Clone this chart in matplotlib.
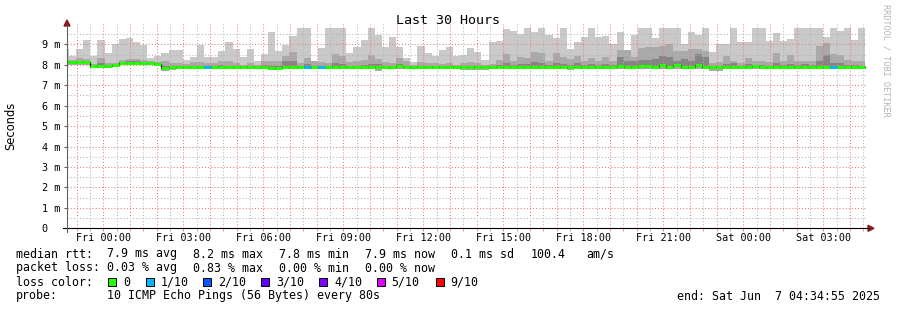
import numpy as np
import matplotlib
matplotlib.use('Agg')
import matplotlib.pyplot as plt
from matplotlib.lines import Line2D
from matplotlib.patches import Polygon, Rectangle

plt.rcParams['font.family'] = ['DejaVu Sans Mono']

W, H = 897, 310

# smokeping bins, 16 min each, bin -1 .. 111 (values in ms)
med = ([8.12] * 4 + [7.95] * 3 + [8.00] + [8.10] * 5 + [8.03, 7.84] + [7.90] * 6 + [7.89] * 3 + [7.88] * 5
       + [7.86, 7.86] + [7.90] * 9 + [7.89] * 5 + [7.87, 7.89, 7.92] + [7.89] * 9
       + [7.90] * 21 + [7.96, 7.90, 7.90, 7.95, 7.95, 7.90, 8.00]
       + [7.90, 8.00, 7.90, 7.90, 8.00] + [7.90] * 7 + [7.93] + [7.90] * 15)
hi = [8.77, 8.45, 8.77, 9.21, 8.45, 9.21, 8.56, 9.02, 9.26, 9.31, 9.10, 8.97, 8.33, 8.45, 8.56,
      8.72, 8.72, 8.23, 8.40, 8.97, 8.40, 8.40, 8.69, 9.10, 8.77, 8.40, 8.77, 8.17, 8.53,
      9.60, 8.69, 8.99, 9.42, 9.80, 9.80, 8.20, 8.82, 9.80, 9.80, 9.80, 8.56, 8.88, 9.21,
      9.80, 9.47, 8.88, 9.37, 8.88, 8.33, 8.12, 8.93, 8.56, 8.45, 8.72, 8.88, 8.45, 8.50,
      8.82, 8.61, 8.23, 9.10, 9.18, 9.75, 9.67, 9.51, 9.80, 9.59, 9.80, 9.46, 9.31, 9.80,
      8.75, 9.10, 9.35, 9.80, 9.37, 9.39, 9.02, 9.61, 8.45, 9.46, 9.80, 9.80, 9.31, 9.80,
      9.78, 9.80, 9.02, 9.59, 9.46, 9.80, 8.61, 9.02, 9.02, 9.80, 9.10, 9.10, 9.80, 9.80,
      9.15, 9.54, 9.15, 9.26, 9.80, 9.80, 9.80, 9.80, 9.34, 9.80, 9.64, 9.80, 9.21, 9.80]
hi2 = [8.23, 8.23, 8.31, 8.28, 8.04, 8.33, 8.07, 8.07, 8.23, 8.28, 8.28, 8.23, 8.17, 8.12, 8.17,
       8.07, 8.07, 8.04, 8.12, 8.12, 8.07, 8.07, 8.17, 8.20, 8.07, 8.00, 8.07, 8.00, 8.17,
       8.17, 8.17, 8.41, 8.61, 8.07, 8.33, 8.17, 8.12, 8.07, 8.53, 8.45, 8.12, 8.17, 8.23,
       8.49, 8.28, 8.12, 8.07, 8.33, 8.17, 8.00, 8.12, 8.07, 8.07, 8.04, 8.07, 8.00, 8.07,
       8.12, 8.07, 8.00, 8.04, 8.23, 8.53, 8.20, 8.36, 8.33, 8.61, 8.56, 8.20, 8.56, 8.36,
       8.28, 8.45, 8.20, 8.33, 8.17, 8.36, 8.17, 8.72, 8.72, 8.36, 8.82, 8.85, 8.88, 8.93,
       9.02, 8.69, 8.69, 8.77, 8.77, 8.69, 8.07, 8.12, 8.45, 8.20, 8.07, 8.33, 8.17, 8.17,
       8.12, 8.56, 8.17, 8.49, 8.17, 8.17, 8.17, 8.93, 9.07, 8.53, 8.49, 8.23, 8.20, 8.17]
hi3 = [8.18, 8.18, 8.20, 8.20, 8.00, 8.10, 8.00, 8.04, 8.16, 8.18, 8.18, 8.16, 8.14, 8.08, 7.92,
       7.96, 7.96, 7.96, 7.96, 7.96, 7.96, 7.95, 7.98, 7.95, 7.94, 7.94, 7.94, 7.94, 7.98,
       7.92, 7.95, 8.20, 8.20, 7.96, 8.05, 7.96, 7.96, 7.96, 8.10, 8.05, 7.95, 7.95, 8.00,
       8.04, 8.05, 7.93, 7.95, 8.05, 7.95, 7.94, 7.95, 7.94, 7.94, 7.94, 7.95, 7.94, 7.95,
       7.96, 7.96, 7.95, 7.96, 8.00, 8.10, 8.00, 8.05, 8.05, 8.15, 8.10, 7.98, 8.10, 8.05,
       8.00, 8.08, 7.98, 8.05, 7.98, 8.05, 7.98, 8.36, 8.20, 8.20, 8.23, 8.23, 8.28, 8.45,
       8.40, 8.17, 8.28, 8.17, 8.53, 8.36, 7.96, 7.96, 8.05, 8.07, 7.96, 8.05, 8.00, 8.00,
       7.96, 8.10, 7.98, 8.05, 7.98, 8.02, 7.98, 8.20, 8.49, 8.07, 8.07, 8.00, 7.98, 7.96]
lo = ([8.00] * 4 + [7.85] * 3 + [7.90] + [8.00] * 5 + [7.93, 7.72, 7.74] + [7.78] * 13
      + [7.76, 7.76] + [7.80] * 9 + [7.78] * 4 + [7.70] + [7.78] * 11 + [7.74]
      + [7.74] * 3 + [7.78] * 11 + [7.75] + [7.78] * 13
      + [7.78] * 6 + [7.72] * 2 + [7.78] * 20)
loss_bins = [19, 33, 35, 107]  # bins with 1/10 loss

xlabels = ['Fri 00:00', 'Fri 03:00', 'Fri 06:00', 'Fri 09:00', 'Fri 12:00',
           'Fri 15:00', 'Fri 18:00', 'Fri 21:00', 'Sat 00:00', 'Sat 03:00']
ylabels = ['0  ', '1 m', '2 m', '3 m', '4 m', '5 m', '6 m', '7 m', '8 m', '9 m']

loss_names = ['0', '1/10', '2/10', '3/10', '4/10', '5/10', '9/10']
loss_colors = ['#26ff00', '#00b8ff', '#0059ff', '#5e00ff', '#7e00ff', '#dd00ff', '#ff0000']


def fx(px):
    return px / W


def fy(py):
    return 1 - py / H


fig = plt.figure(figsize=(W / 100, H / 100), dpi=100)
ax = fig.add_axes([fx(67), fy(228.3), 800 / W, 204.4 / H])
ax.set_xlim(0, 30)
ax.set_ylim(0, 10)
for s in ax.spines.values():
    s.set_visible(False)

edges = (np.arange(-1, 113) * 16 + 4.5) / 60.0
def ext(a):
    return np.append(a, a[-1])

ax.fill_between(edges, ext(lo), ext(hi), step='post', color='#c9c9c9', lw=0, zorder=1)
ax.fill_between(edges, ext(lo), ext(hi2), step='post', color='#a9a9a9', lw=0, zorder=1.1)
ax.fill_between(edges, ext(np.array(med) - 0.04), ext(hi3), step='post', color='#858585', lw=0, zorder=1.2)

# grid on top of the smoke: red every hour, grey every half hour
first = 1.361
dots = (0, (1, 2))
red_grid, grey_grid = '#ec7c7c', '#b4b4b4'
for k in range(-2, 58):
    h = first + 0.5 * k
    if h <= 0 or h >= 30:
        continue
    ax.axvline(h, color=red_grid if k % 2 == 0 else grey_grid, lw=0.75,
               linestyle=dots, snap=True, zorder=2)
for k in range(1, 20):
    ax.axhline(0.5 * k, color=red_grid if k % 2 == 0 else grey_grid, lw=0.75,
               linestyle=dots, snap=True, zorder=2)

# median
ax.step(edges, ext(med), where='post', color='black', lw=0.9, zorder=3)
for i in range(len(med)):
    c = loss_colors[1] if (i - 1) in loss_bins else loss_colors[0]
    ax.hlines(med[i], edges[i], edges[i + 1], color=c, lw=2.2, zorder=4)

ax.set_xticks([first + 3 * k for k in range(len(xlabels))])
ax.set_xticklabels(xlabels, fontsize=7.3)
ax.set_xticks([first + 0.5 * k for k in range(-2, 58) if 0 < first + 0.5 * k < 30], minor=True)
ax.tick_params(axis='x', which='both', length=2.2, color='#e88080', pad=1.5)
ax.set_yticks(range(10))
ax.set_yticklabels(ylabels, fontsize=7.3)
ax.tick_params(axis='y', length=2.5, color='#606060', pad=2.6)

# axes with arrows
fig.add_artist(Line2D([fx(63), fx(869)], [fy(228.3), fy(228.3)], color='black', lw=0.8))
fig.add_artist(Line2D([fx(67), fx(67)], [fy(232), fy(25)], color='#606060', lw=0.8))
fig.add_artist(Polygon([[fx(868), fy(225.3)], [fx(874), fy(228.3)], [fx(868), fy(231.3)]],
                       closed=True, color='#8b1a1a', transform=fig.transFigure))
fig.add_artist(Polygon([[fx(64), fy(26)], [fx(67), fy(20)], [fx(70), fy(26)]],
                       closed=True, color='#8b1a1a', transform=fig.transFigure))

fig.text(fx(448), fy(20), 'Last 30 Hours', fontsize=9.6, ha='center', va='center')
fig.text(fx(11), fy(126), 'Seconds', fontsize=8.3, rotation=90, ha='center', va='center',
         family='DejaVu Sans')
fig.text(fx(886), fy(60), 'RRDTOOL / TOBI OETIKER', fontsize=6.1, rotation=270,
         ha='center', va='center', color='#b4b4b4')

fs = 8.4
rows = [
    (254, [(16, 'median rtt:'), (107.3, '7.9 ms avg'), (193.3, '8.2 ms max'), (279.3, '7.8 ms min'),
           (365, '7.9 ms now'), (451.3, '0.1 ms sd'), (530.7, '100.4'), (586.7, 'am/s')]),
    (268, [(16, 'packet loss:'), (107.3, '0.03 % avg'), (193.3, '0.83 % max'), (279.3, '0.00 % min'),
           (365, '0.00 % now')]),
    (282, [(16, 'loss color:')]),
    (296, [(16, 'probe:'), (107.3, '10 ICMP Echo Pings (56 Bytes) every 80s')]),
]
for y, parts in rows:
    for x, s in parts:
        fig.text(fx(x), fy(y), s, fontsize=fs, ha='left', va='center')

sq_x = [108, 145.7, 203.3, 261, 319, 376.7, 435.7]
lab_x = [123.3, 160.7, 218.3, 276, 334, 391.7, 450]
for sx, lx, name, col in zip(sq_x, lab_x, loss_names, loss_colors):
    fig.add_artist(Rectangle((fx(sx), fy(286)), 8 / W, 8 / H, facecolor=col, edgecolor='black',
                             lw=0.7, transform=fig.transFigure))
    fig.text(fx(lx), fy(282), name, fontsize=fs, ha='left', va='center')

fig.text(fx(880), fy(296), 'end: Sat Jun  7 04:34:55 2025', fontsize=fs, ha='right', va='center')

fig.savefig('out.png', dpi=100)
